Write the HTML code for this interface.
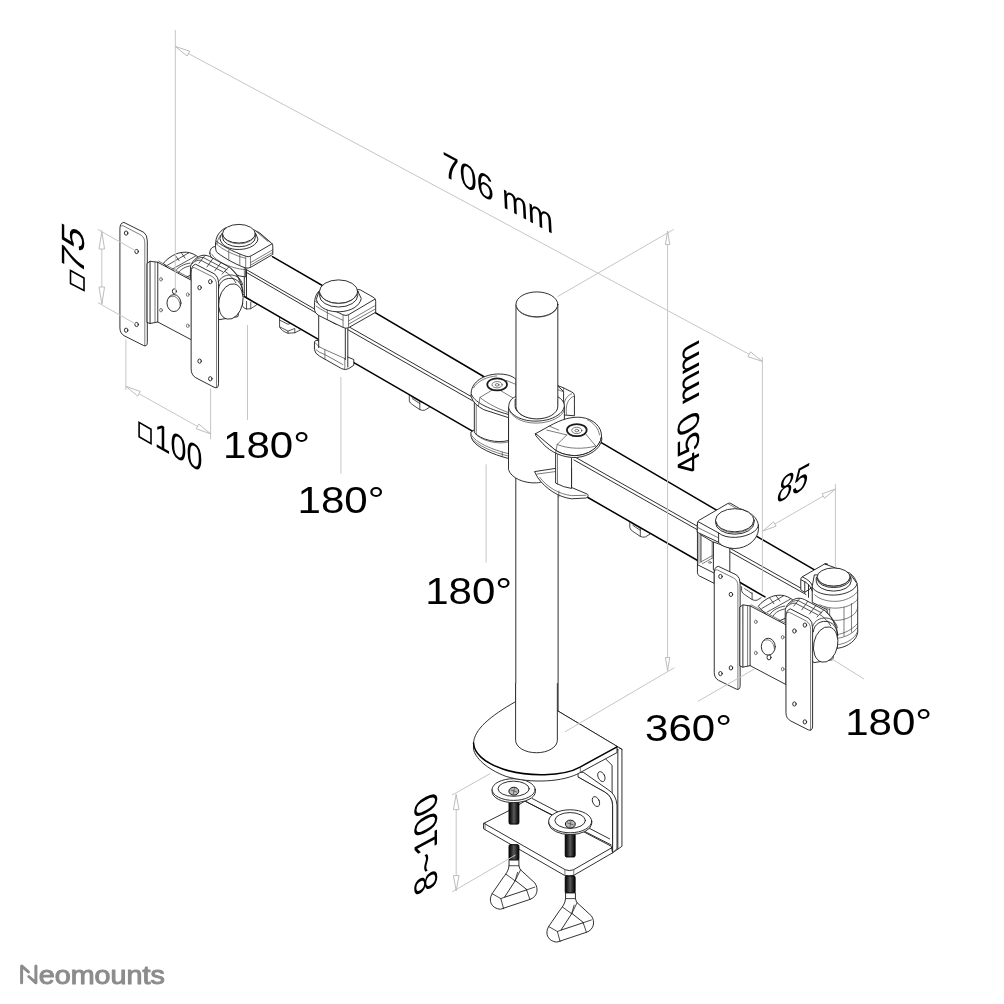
<!DOCTYPE html>
<html><head><meta charset="utf-8">
<style>
html,body{margin:0;padding:0;background:#fff;}
svg{display:block;filter:grayscale(1)}
text{font-family:"Liberation Sans",sans-serif;fill:#000}
svg *{vector-effect:non-scaling-stroke}
.d{stroke:#c6c6c6;stroke-width:1;fill:none}
.a{stroke:#bdbdbd;stroke-width:1;fill:#fff}
.k{stroke:#1a1a1a;stroke-width:.9;fill:none;stroke-linejoin:round;stroke-linecap:round}
.kf{stroke:#1a1a1a;stroke-width:.9;fill:#fff;stroke-linejoin:round;stroke-linecap:round}
.b{stroke:#000;stroke-width:1.5;fill:none;stroke-linejoin:round;stroke-linecap:round}
.bf{stroke:#000;stroke-width:1.5;fill:#fff;stroke-linejoin:round;stroke-linecap:round}
.t{stroke:#444;stroke-width:0.7;fill:none;stroke-linejoin:round;stroke-linecap:round}
.tf{stroke:#444;stroke-width:0.7;fill:#fff;stroke-linejoin:round;stroke-linecap:round}
.m{stroke:#2a2a2a;stroke-width:.8;fill:none;stroke-linejoin:round;stroke-linecap:round}
.w{stroke:none;fill:#fff}
</style></head><body>
<svg width="1004" height="1004" viewBox="0 0 1004 1004">
<rect width="1004" height="1004" fill="#fff"/>
<!-- clips under beam (behind beam) coords region [200,210,370,380] s=5.906 -->
<g id="clipsL" transform="translate(200,210) scale(0.16932)">
<path class="kf" style="stroke-width:.8" d="M250 500V565Q255 580 275 585L300 583L335 560V520Z"/>
<path class="m" d="M275 540V585M300 545V583"/>
<path class="kf" style="stroke-width:.8" d="M445 600L470 615V690Q480 715 520 728L560 725L600 705V670L520 630Z"/>
<path class="m" d="M470 690L520 715V728M520 715L560 700V725M470 650L520 675L560 660"/>
</g>
<g id="clips2">
<g transform="translate(409.3,394.6)"><path class="kf" style="stroke-width:.8" d="M0 -3V6.2Q0.6 8.7 3.1 10L10.5 15Q13 16.2 15.5 15.6L20.5 12.5V6Z"/><path class="m" d="M1.9 1.9L10.5 6.9V15M10.5 6.9L19.3 10M3.1 4L10.5 9"/></g>
<g transform="translate(629.8,521.4)"><path class="kf" style="stroke-width:.8" d="M0 -3V6.2Q0.6 8.7 3.1 10L10.5 15Q13 16.2 15.5 15.6L20.5 12.5V6Z"/><path class="m" d="M1.9 1.9L10.5 6.9V15M10.5 6.9L19.3 10M3.1 4L10.5 9"/></g>
<g transform="translate(741.6,584.6)"><path class="kf" style="stroke-width:.8" d="M0 -3V6.2Q0.6 8.7 3.1 10L10.5 15Q13 16.2 15.5 15.6L20.5 12.5V6Z"/><path class="m" d="M1.9 1.9L10.5 6.9V15M10.5 6.9L19.3 10M3.1 4L10.5 9"/></g>
</g>

<!-- ===== BEAMS (real coords) ===== -->
<g id="beamL1">
<path class="w" d="M272.4 256.7L350 301.5L350 357.6L244.3 296.5V268.8Z"/>
<path class="b" d="M272.4 256.7L350 301.5"/>
<path class="b" d="M244.3 296.5L350 357.6"/>
<path class="k" d="M245 268.8L350 329.5"/>
<path class="k" d="M246.5 272.5L350 332.5"/>
<path class="k" d="M244.3 268.8V296.5M246.5 270V297.5"/>
</g>
<g id="beamL2">
<path class="w" d="M340 291.8L487 378.5L478 434.3L340 354.7Z"/>
<path class="b" d="M340 291.8L487 378.5"/>
<path class="b" d="M340 354.7L478 434.3"/>
<path class="k" d="M340 321.7L474 398.1"/>
<path class="k" d="M340 325.2L474 401.6"/>
</g>
<g id="beamR1">
<path class="w" d="M600 441.8L740 523.9V586.5L574 489.5V457Z"/>
<path class="b" d="M600 441.8L740 523.9"/>
<path class="b" d="M574 489.5L735 582"/>
<path class="k" d="M574 456.5L740 550.3"/>
<path class="k" d="M574 460L740 553.8"/>
</g>
<g id="beamR2">
<path class="w" d="M725 517.9L824 575.3L810 625L725 577Z"/>
<path class="b" d="M725 517.9L824 575.3"/>
<path class="b" d="M735 579.5L765 596.9"/>
<path class="k" d="M725 545.5L806 591"/>
<path class="k" d="M725 549L806 594.5"/>
</g>

<!-- ===== CLAMP 1 (end knob, left)  coords: region [200,210,370,380] s=5.906 ===== -->
<g id="clamp1" transform="translate(200,210) scale(0.16932)">
<!-- hub ring under clamp -->
<path class="kf" d="M58 255C58 225 75 215 100 215L270 300V395L235 390C150 360 60 300 58 255Z"/>
<path class="t" d="M70 262C90 300 180 345 262 352M262 300V392"/>
<!-- body -->
<path class="kf" d="M92 200C92 160 110 130 150 105L320 118L352 135L422 195Q430 200 430 212V262L300 338Q285 346 270 342C230 330 150 290 100 250Q90 240 92 200Z"/>
<path class="k" d="M425 200L300 272Q285 280 268 272C225 258 150 225 97 185"/>
<path class="t" d="M430 235L300 310M430 250L300 325M270 275V342M298 273V338M170 238V292M235 262V327M330 125L400 185M345 132L415 192"/>
<path class="t" d="M97 200C130 235 210 270 268 285M120 150C105 175 100 190 100 200"/>
<!-- knob -->
<path class="kf" d="M118 170C125 215 180 235 232 233C290 232 338 205 342 172L330 140H130Z"/>
<path class="kf" d="M133 140V162A97 55 0 0 0 327 162V140Z"/>
<ellipse class="kf" cx="230" cy="140" rx="97" ry="55"/>
<path class="t" d="M140 160A92 50 0 0 0 320 160"/>
</g>

<!-- ===== LEFT HUB (same shape as right, offset) ===== -->
<g id="hubL" transform="translate(155.2,237) scale(0.0996)">
<path class="kf" d="M85 262C110 225 180 175 240 160C290 148 340 150 380 170L425 195L480 330L250 430Z"/>
<path class="m" d="M120 285L335 160M172 322L405 192M200 345C230 300 290 270 350 262M232 362C255 322 300 298 362 288M262 158L300 212M198 180L240 238"/>
<path class="kf" d="M355 295C365 250 410 200 470 185C500 180 520 185 545 195L740 300C790 330 840 400 860 460C875 500 880 540 880 560L830 800L640 830L355 420Z"/>
<path class="m" d="M400 238C420 215 450 205 480 205L720 330M372 268C390 245 420 232 455 232L680 350M500 185L440 262M580 214L520 300M660 258L598 340M740 300L672 372M760 318C800 350 835 400 850 450M700 345C740 370 790 420 810 460"/>
<path class="k" d="M636 520C640 440 720 400 790 420C845 438 875 490 880 560"/>
<path class="m" d="M628 470C645 400 725 365 800 388C845 402 870 440 878 480"/>
<ellipse class="kf" cx="760" cy="648" rx="120" ry="180" transform="rotate(12 760 648)"/>
</g>
<!-- ===== LEFT VESA coords: region [100,200,350,450] s=4.016 ===== -->
<g id="vesaL" transform="translate(100,200) scale(0.249)">
<!-- back plate -->
<path class="kf" d="M80 114Q80 92 96 90L176 130Q190 140 190 165V572Q190 590 174 584L97 545Q80 535 80 515Z"/>
<path class="t" d="M84 106Q86 100 94 104L163 140Q180 150 180 172V586"/>
<ellipse class="kf" cx="105" cy="133" rx="7" ry="8.5"/><ellipse class="kf" cx="147" cy="207" rx="7" ry="8.5"/>
<ellipse class="kf" cx="147" cy="500" rx="7" ry="8.5"/><ellipse class="kf" cx="105" cy="523" rx="7" ry="8.5"/>
<!-- bracket -->
<path class="kf" d="M190 254L201 246L232 250L368 323V562L232 490L201 496L190 492Z"/>
<path class="k" d="M232 250V490M201 247V496"/>
<path class="t" d="M221 249V492M236 246L368 317"/>
<ellipse class="kf" cx="297" cy="414" rx="28" ry="34"/>
<path class="t" d="M278 390C300 378 320 395 322 425"/>
<ellipse class="kf" cx="298.5" cy="366.5" rx="8" ry="10"/>
<ellipse class="tf" cx="245" cy="318.5" rx="5.5" ry="7"/><ellipse class="tf" cx="245" cy="442.5" rx="5.5" ry="7"/>
<ellipse class="tf" cx="352.5" cy="380" rx="5.5" ry="7"/><ellipse class="tf" cx="352.5" cy="505" rx="5.5" ry="7"/>
<!-- front plate -->
<path class="kf" d="M366 292Q366 262 384 258L458 296Q476 308 476 335V738Q476 760 458 752L385 714Q366 703 366 680Z"/>
<path class="t" d="M370 275Q372 268 380 272L450 307Q468 318 468 340V754"/>
<ellipse class="kf" cx="443" cy="328" rx="7" ry="8.5"/><ellipse class="kf" cx="400" cy="352" rx="7" ry="8.5"/>
<ellipse class="kf" cx="400" cy="647" rx="7" ry="8.5"/><ellipse class="kf" cx="443" cy="718" rx="7" ry="8.5"/>
</g>

<!-- ===== CLAMP 2  coords: region [300,250,550,500] s=4.016 ===== -->
<g id="clamp2" transform="translate(300,250) scale(0.249)">
<!-- lower jaw -->
<path class="w" d="M58 362V400Q60 416 78 426L168 477Q183 484 196 476L216 463V440L192 430V300H75V362Z"/><path class="k" d="M75 364Q62 360 58 368V400Q60 416 78 426L168 477Q183 484 196 476L216 463V440L192 430"/>
<path class="t" d="M60 372Q72 390 100 400L180 436M180 436V478M100 400V438M64 400Q75 412 100 420L172 460"/>
<path class="k" d="M75 262V392M182 312V440M192 312V470"/>
<!-- body cap -->
<path class="kf" d="M58 222C58 185 68 168 88 158L225 158L242 160L298 192Q304 196 304 206V250L195 312Q185 317 173 311L75 263Q58 253 58 236Z"/>
<path class="k" d="M300 198L195 260Q185 266 172 260L64 208"/>
<path class="t" d="M304 222L195 285M304 236L195 298M173 262V311M195 260V312M110 232V280M64 225Q100 250 172 282"/>
<!-- knob -->
<path class="kf" d="M66 200C75 235 120 250 160 248C205 246 240 225 246 195L232 165H78Z"/>
<path class="kf" d="M78 167V182A77 47 0 0 0 232 182V167Z"/>
<ellipse class="kf" cx="155" cy="167" rx="77" ry="47"/>
<path class="t" d="M84 180A72 42 0 0 0 226 180"/>
</g>
<!-- ===== POLE lower (real coords) ===== -->
<g id="poleLow">
<path class="kf" d="M515.8 400V740A21.2 12.5 0 0 0 558.1 740V400Z"/>
</g>
<!-- ===== CENTER JOINT coords: region [460,360,620,520] s=6.275 ===== -->
<g id="center" transform="translate(460,360) scale(0.15936)">
<!-- left joint bottom ring -->
<path class="kf" d="M68 455Q64 480 80 506C110 548 200 592 305 618V440H90Z"/>
<path class="t" d="M70 470C100 520 200 562 305 588M74 492C110 535 200 578 305 603M265 578V607"/>
<!-- left joint cylinder -->
<path class="kf" d="M90 250V455C130 500 230 525 305 505V300Z"/>
<path class="t" d="M102 275V462M95 462C135 508 235 533 305 514"/>
<!-- left cap -->
<path class="kf" d="M70 210C68 150 130 95 230 88C290 86 330 100 352 122V300L305 362L150 312Q85 280 70 230Z"/>
<path class="k" d="M72 216C90 262 160 302 305 342"/>
<path class="t" d="M200 190L125 235L115 292M255 192L332 238M125 235C180 280 250 310 305 330M290 128L348 152M85 175C110 130 170 105 230 100"/>
<ellipse class="kf" cx="233" cy="153" rx="62" ry="38" style="stroke-width:1.7"/>
<ellipse class="t" cx="233" cy="155" rx="32" ry="20"/><ellipse class="t" cx="233" cy="156" rx="12" ry="8"/>
<!-- collar back housing -->
<path class="kf" d="M612 160L650 175L700 200Q718 208 718 222V350L650 345V200Z"/>
<path class="t" d="M612 185L650 200V175M650 332C645 272 660 227 700 212M668 342C662 282 675 242 716 227"/>
<!-- collar body -->
<path class="kf" d="M305 300C305 255 330 235 352 230H612C640 245 655 265 655 292V640L520 762C510 766 500 769 480 771C400 775 320 740 305 690Z"/>
<path class="k" d="M305 302C330 372 450 402 560 372C620 352 650 322 655 292"/>
<path class="t" d="M312 322C345 385 455 414 562 384C620 364 648 338 655 312"/>
<!-- pole hole -->
<path class="kf" d="M346 250V292C352 342 430 377 520 362C580 350 610 322 612 292V250Z"/>
<path class="t" d="M352 300C362 346 435 378 520 366"/>
<!-- right joint bottom teardrop -->
<path class="kf" d="M470 700L600 680H700V800L800 842C810 852 800 862 790 866L700 871C620 861 540 811 490 741Z"/>
<path class="t" d="M482 716L600 700M500 736C550 801 620 841 700 851L790 849M620 822V861"/>
<!-- right joint cylinder -->
<path class="kf" d="M600 570V772Q650 800 700 806V590Z"/>
<path class="t" d="M612 590V780"/>
<!-- right cap -->
<path class="kf" d="M475 462L560 415C640 370 700 355 760 360C840 370 890 420 888 480C880 550 800 600 720 600C660 598 610 580 580 550L520 510Z"/>
<path class="kf" d="M478 478L520 525C570 580 650 615 730 612C810 605 880 560 890 500L888 480C880 550 800 600 720 600C660 598 610 580 580 550L475 462Z"/>
<path class="t" d="M670 470L610 530L600 582M790 466L852 540M545 440L670 470M610 530C680 560 780 560 852 540M560 415L620 440M800 375C840 395 870 430 875 470"/>
<ellipse class="kf" cx="733" cy="440" rx="62" ry="38" style="stroke-width:1.7"/>
<ellipse class="t" cx="733" cy="442" rx="32" ry="20"/><ellipse class="t" cx="733" cy="443" rx="12" ry="8"/>
</g>
<!-- ===== POLE upper coords: region [450,270,700,520] s=4.016 ===== -->
<g id="poleUp" transform="translate(450,270) scale(0.249)">
<path class="kf" d="M265 140V548A84 50 0 0 0 433 548V140Z"/>
<ellipse class="kf" cx="349" cy="138" rx="84" ry="50"/>
<path class="t" d="M267 150A83 47 0 0 0 431 150"/>
</g>

<!-- ===== END CLAMP 4 coords: region [750,550,875,675] s=8.032 ===== -->
<g id="clamp4" transform="translate(750,550) scale(0.1245)">
<!-- pivot housing cylinder -->
<path class="kf" d="M500 300V420L620 480V700L700 790C790 780 860 720 865 660V330C865 280 860 230 800 185L600 112Q610 108 625 115L600 112L420 215Q408 222 408 235V320L440 340L500 300Z"/>
<path class="t" d="M520 360C560 400 640 420 720 410C790 400 850 360 865 330M560 440C620 470 700 475 770 455C820 440 860 410 865 390M640 560C700 575 780 560 830 520C850 505 865 480 865 460M700 680C760 670 820 640 865 590M700 710C770 700 830 670 865 620M710 760C780 750 840 710 862 660M755 460V690M815 430V660M640 470V560M600 460L640 480"/>
<!-- body top -->
<path class="k" d="M412 240L440 255C470 270 490 300 500 330M440 255V340M470 280V380M420 215L455 235C480 250 500 275 505 300"/>
<path class="kf" d="M500 300C520 340 600 365 680 362C770 358 850 320 860 270L810 200H520Z"/>
<path class="kf" d="M532 225V250A140 80 0 0 0 812 250V225Z"/>
<path class="kf" d="M540 217V235A133 73 0 0 0 805 235V217Z"/>
<ellipse class="kf" cx="672" cy="217" rx="133" ry="73"/>
<path class="t" d="M548 232A125 66 0 0 0 797 232"/>
</g>
<!-- ===== RIGHT HUB coords: region [750,580,850,680] s=10.04 ===== -->
<g id="hubR" transform="translate(750,580) scale(0.0996)">
<path class="kf" d="M85 262C110 225 180 175 240 160C290 148 340 150 380 170L425 195L480 330L250 430Z"/>
<path class="m" d="M120 285L335 160M172 322L405 192M200 345C230 300 290 270 350 262M232 362C255 322 300 298 362 288M262 158L300 212M198 180L240 238"/>
<path class="kf" d="M355 295C365 250 410 200 470 185C500 180 520 185 545 195L740 300C790 330 840 400 860 460C875 500 880 540 880 560L830 800L640 830L355 420Z"/>
<path class="m" d="M400 238C420 215 450 205 480 205L720 330M372 268C390 245 420 232 455 232L680 350M500 185L440 262M580 214L520 300M660 258L598 340M740 300L672 372M760 318C800 350 835 400 850 450M700 345C740 370 790 420 810 460"/>
<path class="k" d="M636 520C640 440 720 400 790 420C845 438 875 490 880 560"/>
<path class="m" d="M628 470C645 400 725 365 800 388C845 402 870 440 878 480"/>
<ellipse class="kf" cx="760" cy="648" rx="120" ry="180" transform="rotate(12 760 648)"/>
</g>
<!-- ===== CLAMP 3 coords: region [685,490,810,615] s=8.032 ===== -->
<g id="clamp3" transform="translate(685,490) scale(0.1245)">
<!-- lower jaw + left piece -->
<path class="kf" d="M100 265V665Q100 680 115 690L235 750V620L228 420L128 360Z"/>
<path class="k" d="M128 362V578M100 600L235 668"/>
<path class="t" d="M128 578L218 528M140 592L218 548M218 420V548M112 355V590"/>
<ellipse class="t" cx="200" cy="582" rx="12" ry="7"/>
<!-- pivot cylinder -->
<path class="kf" d="M228 420V640L360 710V470Z"/>
<!-- body -->
<path class="kf" d="M100 265Q100 250 115 242L345 108Q356 103 368 108L440 150C560 185 597 250 590 320C583 400 500 468 400 470C340 468 292 450 270 420L100 340Z"/>
<path class="k" d="M106 255L270 345C330 397 480 392 560 330C578 315 588 295 590 280M270 345V420"/>
<path class="t" d="M350 112L420 152M100 300L270 385"/>
<!-- knob -->
<path class="kf" d="M245 243V262A155 93 0 0 0 555 262V243Z"/>
<ellipse class="kf" cx="400" cy="243" rx="155" ry="93"/>
<path class="t" d="M252 258A148 86 0 0 0 548 258"/>
</g>
<!-- ===== RIGHT VESA coords: region [650,450,900,700] s=4.016 ===== -->
<g id="vesaR" transform="translate(650,450) scale(0.249)">
<!-- back plate -->
<path class="kf" d="M258 494Q258 470 274 467L348 502Q362 512 362 538V945Q362 966 346 960L275 925Q258 915 258 895Z"/>
<path class="t" d="M262 484Q264 478 272 482L336 514Q353 524 353 546V962"/>
<ellipse class="kf" cx="283" cy="508" rx="7" ry="8.5"/><ellipse class="kf" cx="325" cy="580" rx="7" ry="8.5"/>
<ellipse class="kf" cx="325" cy="875" rx="7" ry="8.5"/><ellipse class="kf" cx="283" cy="898" rx="7" ry="8.5"/>
<!-- bracket -->
<path class="kf" d="M362 630L373 622L402 626L546 702V942L402 866L373 872L362 868Z"/>
<path class="k" d="M402 626V866M373 623V872"/>
<path class="t" d="M392 625V868M406 622L546 696"/>
<ellipse class="kf" cx="475" cy="790" rx="28" ry="34"/>
<path class="t" d="M456 766C478 754 498 771 500 801"/>
<ellipse class="kf" cx="478" cy="833" rx="8" ry="10"/>
<ellipse class="tf" cx="425" cy="690" rx="5.5" ry="7"/><ellipse class="tf" cx="425" cy="815" rx="5.5" ry="7"/>
<ellipse class="tf" cx="533" cy="752" rx="5.5" ry="7"/><ellipse class="tf" cx="533" cy="880" rx="5.5" ry="7"/>
<!-- front plate -->
<path class="kf" d="M546 670Q546 642 564 638L638 676Q653 688 653 714V1108Q653 1130 636 1124L565 1088Q546 1078 546 1056Z"/>
<path class="t" d="M550 655Q552 648 560 652L628 687Q645 698 645 720V1126"/>
<ellipse class="kf" cx="622" cy="703" rx="7" ry="8.5"/><ellipse class="kf" cx="580" cy="727" rx="7" ry="8.5"/>
<ellipse class="kf" cx="580" cy="1020" rx="7" ry="8.5"/><ellipse class="kf" cx="622" cy="1092" rx="7" ry="8.5"/>
</g>

<!-- ===== BASE CLAMP coords: region [465,700,630,865] s=6.085 ===== -->
<defs><linearGradient id="thr" x1="0" x2="1" y1="0" y2="0"><stop offset="0" stop-color="#000"/><stop offset="0.3" stop-color="#333"/><stop offset="0.5" stop-color="#5a5a5a"/><stop offset="0.7" stop-color="#333"/><stop offset="1" stop-color="#000"/></linearGradient></defs>
<g id="base" transform="translate(465,700) scale(0.16434)">
<!-- vertical outer plate -->
<path class="kf" d="M562 65L905 270L955 300V890L920 915L895 930V400Z"/>
<path class="k" d="M930 300V905M905 272Q912 300 930 302M955 300L940 292"/>
<!-- inner L bracket -->
<path class="kf" d="M690 440L720 440L870 545Q920 575 925 640V905L898 930V640Q895 585 850 560L690 470Z"/>
<path class="w" d="M690 470L850 560Q895 585 898 640V930L690 800Z"/><path class="k" d="M690 470L850 560Q895 585 898 640V930"/>
<ellipse class="kf" cx="830" cy="466" rx="20" ry="32" transform="rotate(-25 830 466)"/>
<ellipse class="kf" cx="797" cy="618" rx="20" ry="32" transform="rotate(-25 797 618)"/>
<!-- lower plate -->
<path class="kf" d="M115 750L270 672L365 615L890 890L898 930L665 1065Q635 1078 605 1067L115 785Z"/>
<path class="k" d="M115 750L610 1033Q635 1043 660 1033L895 898"/>
<path class="k" d="M365 615L890 882M410 600L880 845"/>
<path class="t" d="M122 752V788M608 1034V1067M662 1034V1065"/>
<!-- screw 1 upper -->
<rect x="268" y="600" width="60" height="155" fill="url(#thr)" stroke="#000" stroke-width="1" rx="6" ry="10"/>
<!-- screw 2 upper -->
<rect x="610" y="810" width="60" height="145" fill="url(#thr)" stroke="#000" stroke-width="1" rx="6" ry="10"/>
<!-- pad 1 -->
<path class="kf" d="M165 545V558A131 66 0 0 0 428 558V545Z"/>
<ellipse class="kf" cx="296" cy="545" rx="131" ry="66"/>
<ellipse class="k" cx="296" cy="540" rx="95" ry="46"/>
<ellipse cx="297" cy="555" rx="30" ry="24" fill="#bbb" stroke="#111" stroke-width="1"/>
<path class="t" d="M280 548L315 560M300 540L295 570"/>
<!-- pad 2 -->
<path class="kf" d="M510 740V755A131 70 0 0 0 771 755V740Z"/>
<ellipse class="kf" cx="640" cy="738" rx="131" ry="70"/>
<ellipse class="k" cx="640" cy="733" rx="93" ry="48"/>
<ellipse cx="641" cy="755" rx="30" ry="24" fill="#bbb" stroke="#111" stroke-width="1"/>
<path class="t" d="M624 748L659 760M644 740L639 770"/>
<!-- top plate -->
<path class="kf" d="M52 262C55 180 150 100 308 10L562 65L905 270L925 282V320L700 442C600 500 400 510 250 465C130 420 60 350 52 300Z"/>
<path class="b" d="M925 285L700 408C600 465 380 470 230 420C110 380 55 320 52 262"/>
<path class="t" d="M702 408V440"/>
<!-- pole bottom -->
<path class="w" d="M308 -100V245A127 76 0 0 0 562 245V-100Z"/><path class="k" d="M308 -100V245A127 76 0 0 0 562 245V-100"/>
</g>
<!-- ===== HANDLES coords: region [465,800,630,965] s=6.085 ===== -->
<g id="handles" transform="translate(465,800) scale(0.16434)">
<rect x="268" y="272" width="60" height="95" fill="url(#thr)" stroke="#000" stroke-width="1" rx="6" ry="10"/>
<rect x="610" y="462" width="60" height="105" fill="url(#thr)" stroke="#000" stroke-width="1" rx="6" ry="10"/>
<g id="h1">
<path class="kf" d="M268 367V400C265 430 250 450 230 475L165 570C140 612 160 660 215 665L395 605C440 590 450 540 425 505L335 422L328 400V367Z"/>
<path class="k" d="M305 492L240 592L375 547Z"/>
<path class="k" style="stroke-width:.8" d="M268 400H328M250 452L305 492L338 425M305 492L320 440M240 592L218 600L235 662M375 547L395 605M375 547L425 530M165 570L218 600"/>
</g>
<g transform="translate(344,200)">
<path class="kf" d="M268 367V400C265 430 250 450 230 475L165 570C140 612 160 660 215 665L395 605C440 590 450 540 425 505L335 422L328 400V367Z"/>
<path class="k" d="M305 492L240 592L375 547Z"/>
<path class="k" style="stroke-width:.8" d="M268 400H328M250 452L305 492L338 425M305 492L320 440M240 592L218 600L235 662M375 547L395 605M375 547L425 530M165 570L218 600"/>
</g>
</g>

<!-- ===== DIMENSION LINES ===== -->
<g id="dims" class="d">
<path d="M175.3 30V294"/>
<path d="M175.3 46.5L762.4 361.4"/>
<path d="M762.4 357V592"/>
<path d="M557.4 296.7L673.7 229.4"/>
<path d="M667.6 231V671"/>
<path d="M565 731.8L674.5 667.6"/>
<path d="M697.7 701.4L754.2 669.1"/>
<path d="M762.7 531.1L835.4 489"/>
<path d="M835.4 484V567.5"/>
<path d="M125.9 339.5V390"/>
<path d="M210.6 388.6V439.4"/>
<path d="M125.9 386.4L210.6 433.8"/>
<path d="M247.5 325V420"/>
<path d="M340.9 377V473.8"/>
<path d="M486.1 464.3V562.5"/>
<path d="M101.8 230V304.6"/>
<path d="M97.8 229.4L136 251"/>
<path d="M97.8 302.6L136 324.2"/>
<path d="M832 659L864 679"/>
<path d="M452 795.1L490.4 773.5"/>
<path d="M452 892L515.5 855"/>
<path d="M456.2 794.4V890.6"/>
</g>
<g id="arrows">
<path class="a" d="M175.3 46.5L189.8 51.2L187.2 56.0Z"/>
<path class="a" d="M762.4 361.4L747.9 356.7L750.5 351.9Z"/>
<path class="a" d="M667.6 231.5L669.8 244.5L665.4 244.5Z"/>
<path class="a" d="M667.6 670.5L665.4 657.5L669.8 657.5Z"/>
<path class="a" d="M762.7 531.1L773.6 521.9L776.1 526.2Z"/>
<path class="a" d="M835.4 489.0L824.5 498.2L822.0 493.9Z"/>
<path class="a" d="M125.9 386.4L140.3 391.4L137.7 396.1Z"/>
<path class="a" d="M210.6 433.8L196.2 428.8L198.8 424.1Z"/>
<path class="a" d="M101.8 232.0L104.6 249.0L99.0 249.0Z"/>
<path class="a" d="M101.8 304.0L99.0 287.0L104.6 287.0Z"/>
<path class="a" d="M456.2 794.6L459.0 809.6L453.4 809.6Z"/>
<path class="a" d="M456.2 890.6L453.4 875.6L459.0 875.6Z"/>
</g>

<!-- ===== TEXT ===== -->
<g id="labels">
<text x="223" y="457.6" font-size="36.5" textLength="87" lengthAdjust="spacingAndGlyphs">180°</text>
<text x="297.5" y="513.4" font-size="36.5" textLength="87" lengthAdjust="spacingAndGlyphs">180°</text>
<text x="425.2" y="604.2" font-size="36.5" textLength="87" lengthAdjust="spacingAndGlyphs">180°</text>
<text x="845.2" y="734.5" font-size="36.5" textLength="87" lengthAdjust="spacingAndGlyphs">180°</text>
<text x="645" y="741.3" font-size="36.5" textLength="87" lengthAdjust="spacingAndGlyphs">360°</text>
<text transform="matrix(0.883 0.474 0.05 1 443.3 175.2)" font-size="35" textLength="125" lengthAdjust="spacingAndGlyphs">706 mm</text>
<text transform="matrix(0 -1 0.883 -0.469 699.3 468.7)" font-size="35" textLength="131" lengthAdjust="spacingAndGlyphs">450 mm</text>
<text transform="matrix(0.883 -0.469 -0.2135 1 775.3 504.3)" font-size="38" textLength="35" lengthAdjust="spacingAndGlyphs">85</text>
<text transform="matrix(0.87 0.49 0 1 154.5 445.8)" font-size="35.5" textLength="55" lengthAdjust="spacingAndGlyphs">100</text>
<path d="M139.1 422.4L151 429.2V443.6L139.1 436.8Z" fill="none" stroke="#000" stroke-width="1.6"/>
<text transform="matrix(0 -1 0.883 0.469 84 276.5)" font-size="36.5" textLength="44.5" lengthAdjust="spacingAndGlyphs">75</text>
<path d="M70.5 270.5L84 278V290.5L70.5 283.5Z" fill="none" stroke="#000" stroke-width="1.6"/>
<text transform="matrix(0 -1 0.883 -0.469 437.3 886.5)" font-size="37" textLength="97" lengthAdjust="spacingAndGlyphs">8~100</text>
<path d="M21.6 982.8V965.9L28.4 971.9M35.9 965.9V982.8L28.8 976.5" fill="none" stroke="#8c8c8c" stroke-width="3" stroke-linejoin="round" stroke-linecap="round"/>
<text x="38.8" y="983.8" font-size="25" textLength="126" lengthAdjust="spacingAndGlyphs" style="fill:#8c8c8c;stroke:#8c8c8c;stroke-width:1;stroke-linejoin:round">eomounts</text>
</g>

</svg>
</body></html>
